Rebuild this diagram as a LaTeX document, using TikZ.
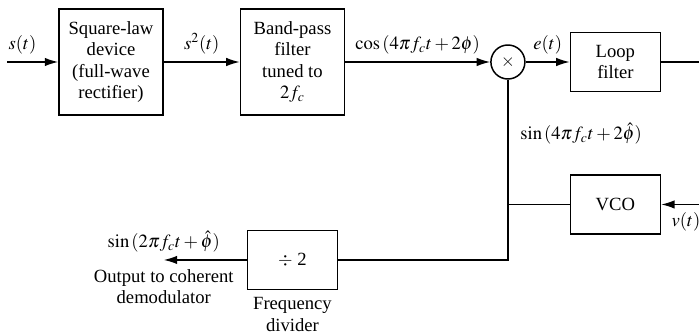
\documentclass[tikz,border=0pt]{standalone}
\usepackage{mathptmx}
\usepackage{fontspec}
\setmainfont{Liberation Serif}
\usetikzlibrary{arrows.meta,positioning}

\begin{document}
\begin{tikzpicture}[x=0.02cm,y=-0.02cm,
 block/.style={draw,line width=0.85pt,align=center,
 font=\fontsize{10.6}{12.2}\selectfont,inner sep=1pt},
 big/.style={block,minimum width=2.08cm,minimum height=2.12cm},
 small/.style={block,minimum width=1.8cm,minimum height=1.18cm},
 mixer/.style={draw,circle,line width=0.85pt,minimum size=0.68cm,inner sep=0pt},
 lbl/.style={font=\fontsize{10.6}{12.2}\selectfont,align=center,inner sep=1pt},
 flow/.style={-{Latex[length=2.7mm,width=1.7mm]},line width=0.8pt},
 wire/.style={line width=0.8pt}]
\useasboundingbox (0,0) rectangle (699,334);
\node[big] (sq) at (111,62) {Square-law\\device\\(full-wave\\rectifier)};
\node[big,right=1.52cm of sq] (bpf) {Band-pass\\filter\\tuned to\\$2f_c$};
\node[mixer,right=2.9cm of bpf] (mult) {$\times$};
\node[small,right=0.88cm of mult] (lf) {Loop\\filter};
\node[small,below=1.64cm of lf] (vco) {VCO};
\node[small,below=2.28cm of bpf] (div) {$\div$ 2};
\node[lbl,below=3pt of div] (divname) {Frequency\\divider};
\coordinate[left=1.02cm of sq] (in);
\coordinate[right=0.86cm of lf] (lfout);
\coordinate[right=0.86cm of vco] (vin);
\coordinate[left=1.66cm of div] (out);
\coordinate (tap) at (mult |- vco);
\coordinate (turn) at (mult |- div);
\draw[flow] (in) -- node[lbl,above=3pt,pos=0.3] (sin) {$s(t)$} (sq);
\draw[flow] (sq) -- node[lbl,above=3pt] (ssq) {$s^2(t)$} (bpf);
\draw[flow] (bpf) -- node[lbl,above=3pt] (cosl) {$\cos\,(4\pi f_c t + 2\phi)$} (mult);
\draw[flow] (mult) -- node[lbl,above=3pt] (err) {$e(t)$} (lf);
\draw[wire] (lf) -- (lfout);
\draw[flow] (vin) -- node[lbl,below=3pt,pos=0.42] (vt) {$v(t)$} (vco);
\draw[wire] (vco) -- (tap);
\draw[wire] (mult) -- node[lbl,right=0.2cm,pos=0.3] (sinl) {$\sin\,(4\pi f_c t + 2\hat{\phi})$} (turn) -- (div);
\draw[flow] (div) -- (out);
\node[lbl,above=3pt of out] (outsig) {$\sin\,(2\pi f_c t + \hat{\phi})$};
\node[lbl,below=4pt of out] (outname) {Output to coherent\\demodulator};
\end{tikzpicture}
\end{document}
